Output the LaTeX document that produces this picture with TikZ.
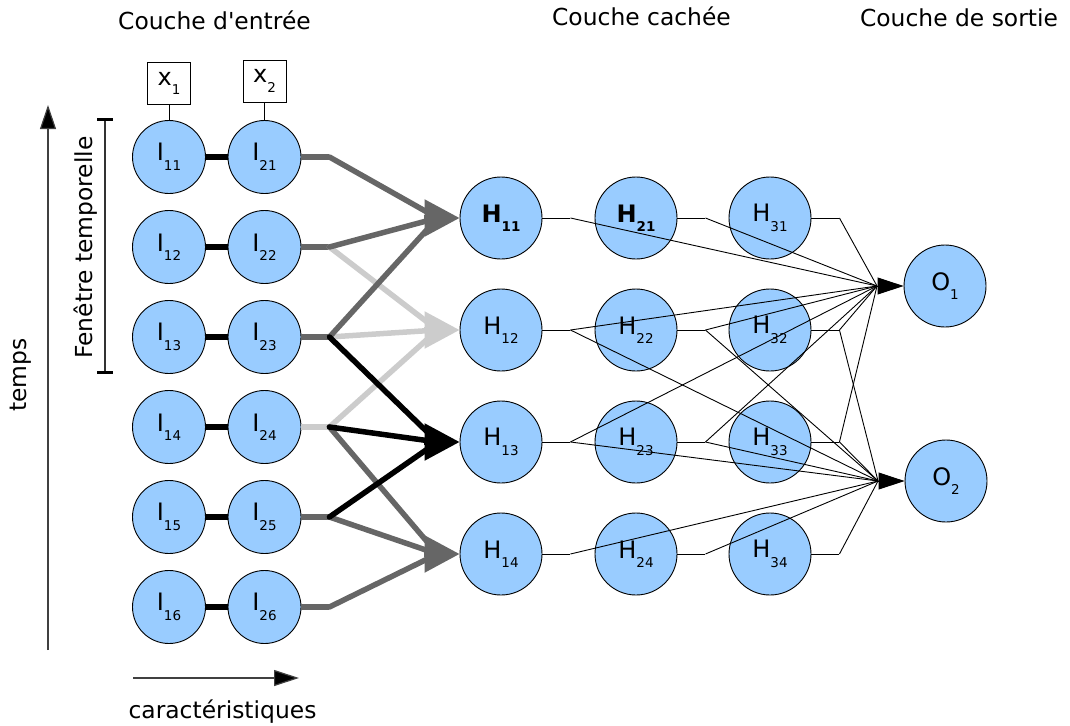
\documentclass[tikz,border=0pt]{standalone}
\usepackage{fontspec}
\setmainfont{DejaVu Sans}[Ligatures=TeXOff]
\usetikzlibrary{arrows.meta,calc}
\definecolor{nodeblue}{HTML}{99CCFF}
\definecolor{dgray}{HTML}{666666}
\definecolor{lgray}{HTML}{CCCCCC}
\newcommand{\nlab}[2]{{\fontsize{24}{24}\selectfont #1}\raisebox{-9.5pt}{\fontsize{13.5}{13.5}\selectfont #2}}
\newcommand{\nlabb}[2]{{\bfseries\fontsize{24}{24}\selectfont #1}\raisebox{-9.5pt}{\bfseries\fontsize{13.5}{13.5}\selectfont #2}}
\begin{document}
\begin{tikzpicture}[x=1pt,y=-1pt,
  neuron/.style={circle,draw=black,line width=0.9pt,fill=nodeblue,inner sep=0pt},
  inneuron/.style={neuron,minimum size=73pt},
  hidneuron/.style={neuron,minimum size=82pt},
  featbox/.style={rectangle,draw=black,line width=0.9pt,fill=white,minimum width=43pt,minimum height=42pt,inner sep=0pt},
  titletext/.style={font=\fontsize{23.4}{28}\selectfont,anchor=base},
  hline/.style={line width=0.9pt},
  fatline/.style={line width=5.5pt},
  bigtip/.style={-{Triangle[length=35pt,width=36pt]}},
  smalltip/.style={-{Triangle[length=26pt,width=17pt]}},
]
\useasboundingbox (0,0) rectangle (1070,725);

% titles
\node[titletext] (t1) at (214.5,29.3) {Couche d'entrée};
\node[titletext] (t2) at (641.5,26) {Couche cachée};
\node[titletext] (t3) at (959,27) {Couche de sortie};

% input nodes
\foreach \j/\y in {1/157,2/247,3/337,4/427,5/517,6/607} {
  \node[inneuron] (I1\j) at (169,\y) {\nlab{I}{1\j}};
  \node[inneuron] (I2\j) at (264.5,\y) {\nlab{I}{2\j}};
  \draw[line width=6pt] (I1\j) -- (I2\j);
  \coordinate (T\j) at ($(I2\j.east)+(28,0)$);
}

% feature boxes
\node[featbox] (x1) at (169,83.5) {\raisebox{-2pt}{\nlab{x}{1}}};
\node[featbox] (x2) at (264.5,81) {\raisebox{-2pt}{\nlab{x}{2}}};
\draw[hline] (x1) -- (I11);
\draw[hline] (x2) -- (I21);

% hidden nodes
\node[hidneuron] (H11) at (501,218) {\nlabb{H}{11}};
\node[hidneuron] (H12) at (501,330) {\nlab{H}{12}};
\node[hidneuron] (H13) at (501,442) {\nlab{H}{13}};
\node[hidneuron] (H14) at (501,554) {\nlab{H}{14}};
\node[hidneuron] (H21) at (636,218) {\nlabb{H}{21}};
\node[hidneuron] (H22) at (636,330) {\nlab{H}{22}};
\node[hidneuron] (H23) at (636,442) {\nlab{H}{23}};
\node[hidneuron] (H24) at (636,554) {\nlab{H}{24}};
\node[hidneuron] (H31) at (770,218) {\nlab{H}{31}};
\node[hidneuron] (H32) at (770,330) {\nlab{H}{32}};
\node[hidneuron] (H33) at (770,442) {\nlab{H}{33}};
\node[hidneuron] (H34) at (770,554) {\nlab{H}{34}};

% output nodes
\node[hidneuron] (O1) at (945,286) {\nlab{O}{1}};
\node[hidneuron] (O2) at (946,481) {\nlab{O}{2}};
\coordinate (O1in) at (877,286);
\coordinate (O2in) at (878,481);

% hidden connections
\foreach \i in {1,2,3} {
  \foreach \k in {1,2,3,4} {
    \coordinate (S\i\k) at ($(H\i\k.east)+(28,0)$);
    \draw[hline] (H\i\k.east) -- (S\i\k);
  }
  \foreach \k in {1,2,3} { \draw[hline] (S\i\k) -- (O1in); }
  \foreach \k in {2,3,4} { \draw[hline] (S\i\k) -- (O2in); }
}
\draw[hline,smalltip] (O1in) -- (O1.west);
\draw[hline,smalltip] (O2in) -- (O2.west);

% input stubs
\foreach \j in {1,2,3,5,6} { \draw[fatline,dgray] (I2\j.east) -- (T\j); }
\draw[fatline,lgray] (I24.east) -- (T4);

% input arrows
\foreach \k in {1,2,3,4} { \coordinate (C\k) at ($(H1\k.west)+(-22,0)$); }
% light gray group -> H12
\foreach \j in {2,3,4} { \draw[fatline,lgray,line cap=round] (T\j) -- (C2); }
\draw[fatline,lgray,bigtip] ($(H12.west)+(-36,0)$) -- (H12.west);
% dark gray groups -> H11, H14
\foreach \j in {1,2,3} { \draw[fatline,dgray,line cap=round] (T\j) -- (C1); }
\draw[fatline,dgray,bigtip] ($(H11.west)+(-36,0)$) -- (H11.west);
\foreach \j in {4,5,6} { \draw[fatline,dgray,line cap=round] (T\j) -- (C4); }
\draw[fatline,dgray,bigtip] ($(H14.west)+(-36,0)$) -- (H14.west);
% black group -> H13
\foreach \j in {3,4,5} { \draw[fatline,black,line cap=round] (T\j) -- (C3); }
\draw[fatline,black,bigtip] ($(H13.west)+(-36,0)$) -- (H13.west);

% time window bracket
\coordinate (bt) at (105,119);
\coordinate (bb) at (105,372);
\draw[line width=1.2pt,black!80] (bt) -- (bb);
\draw[line width=3pt] ($(bt)+(-8,0)$) -- ($(bt)+(8,0)$);
\draw[line width=3pt] ($(bb)+(-8,0)$) -- ($(bb)+(8,0)$);
\node[titletext,rotate=90] (fen) at (92.5,247.5) {Fenêtre temporelle};

% time axis
\coordinate (ta) at (48,650);
\coordinate (tb) at (48,105);
\draw[line width=1.2pt,black!75,-{Triangle[length=24pt,width=16pt,fill=black]}] (ta) -- (tb);
\node[titletext,rotate=90] (temps) at (27,375) {temps};

% feature axis
\coordinate (fa) at (133,678);
\coordinate (fb) at (299,678);
\draw[line width=1.2pt,black!75,-{Triangle[length=25pt,width=16pt,fill=black]}] (fa) -- (fb);
\node[titletext] (car) at (222.5,718.5) {caractéristiques};
\end{tikzpicture}
\end{document}
